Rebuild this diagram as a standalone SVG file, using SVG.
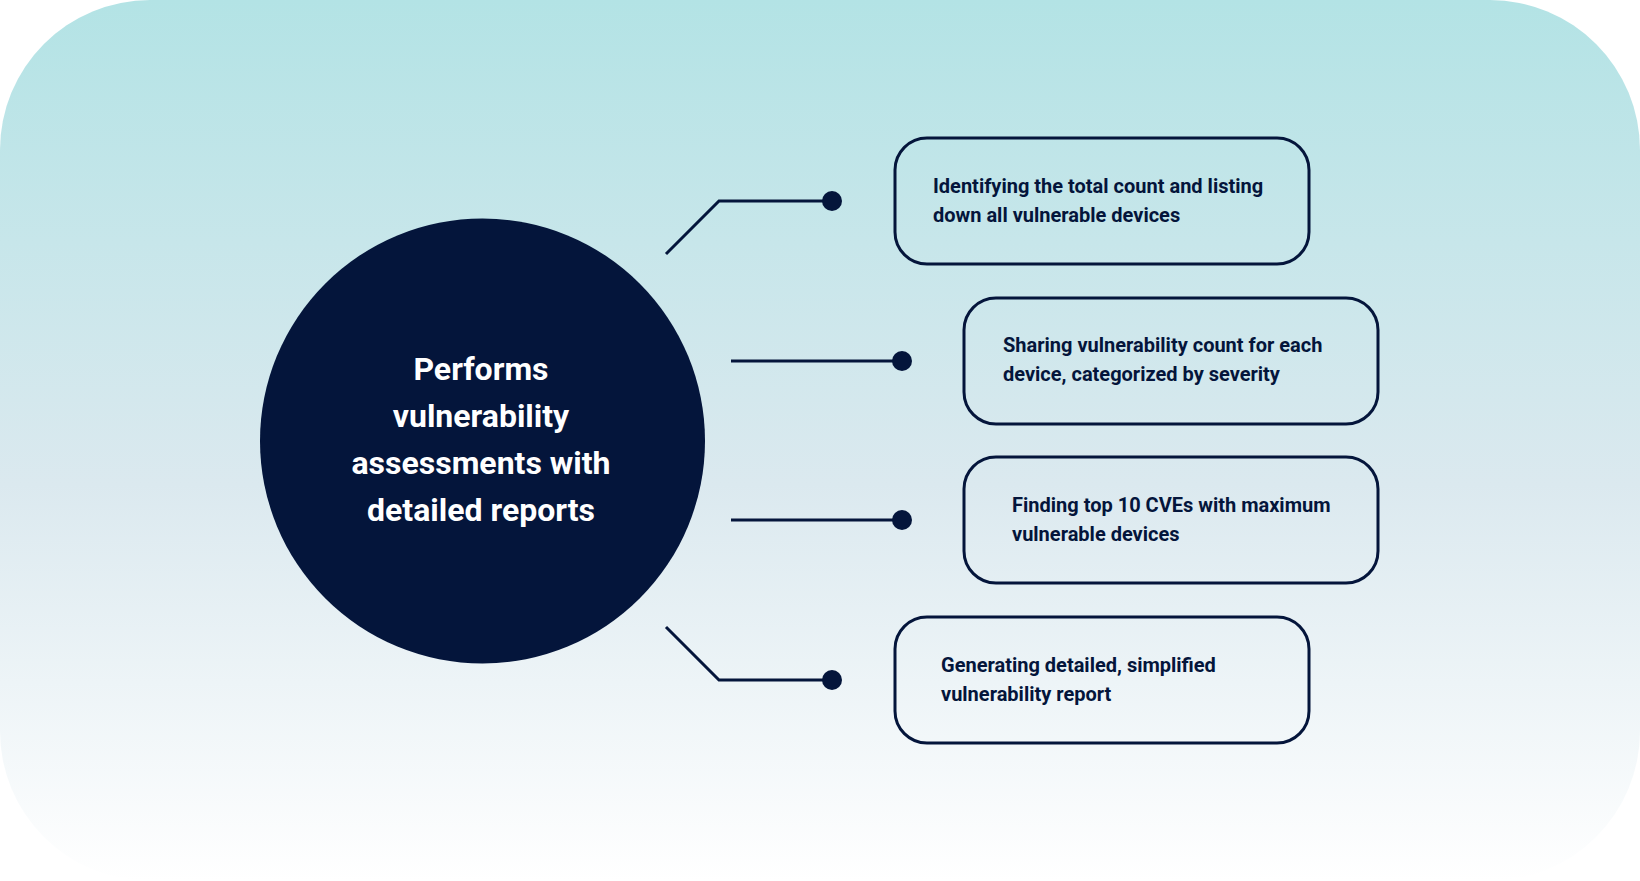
<svg xmlns="http://www.w3.org/2000/svg" width="1640" height="881" viewBox="0 0 1640 881">
<defs>
<linearGradient id="bg" x1="0" y1="0" x2="0" y2="1">
<stop offset="0" stop-color="#b3e3e5"/>
<stop offset="0.55" stop-color="#dbe9ef"/>
<stop offset="1" stop-color="#ffffff"/>
</linearGradient>
<style>
.box{fill:none;stroke:#04153b;stroke-width:3}
.t{font-family:Roboto,"Liberation Sans",sans-serif;font-weight:700;font-size:20px;fill:#04153b}
.ct{font-family:Roboto,"Liberation Sans",sans-serif;font-weight:700;font-size:32px;fill:#ffffff;text-anchor:middle}
.ln{fill:none;stroke:#04153b;stroke-width:3}
.dot{fill:#04153b}
</style>
</defs>
<rect x="0" y="0" width="1640" height="881" rx="150" ry="150" fill="url(#bg)"/>
<g id="center">
<circle cx="482.5" cy="441" r="222.5" fill="#04153b"/>
<text class="ct" x="481" y="380">Performs</text>
<text class="ct" x="481" y="427">vulnerability</text>
<text class="ct" x="481" y="474">assessments with</text>
<text class="ct" x="481" y="521">detailed reports</text>
</g>
<g id="connectors">
<polyline class="ln" points="666,254 719,201 832,201"/>
<circle class="dot" cx="832" cy="201" r="10"/>
<line class="ln" x1="731" y1="361" x2="902" y2="361"/>
<circle class="dot" cx="902" cy="361" r="10"/>
<line class="ln" x1="731" y1="520" x2="902" y2="520"/>
<circle class="dot" cx="902" cy="520" r="10"/>
<polyline class="ln" points="666,627 719,680 832,680"/>
<circle class="dot" cx="832" cy="680" r="10"/>
</g>
<g id="box1">
<rect class="box" x="895" y="138" width="414" height="126" rx="32"/>
<text class="t" x="933" y="193">Identifying the total count and listing</text>
<text class="t" x="933" y="222">down all vulnerable devices</text>
</g>
<g id="box2">
<rect class="box" x="964" y="298" width="414" height="126" rx="32"/>
<text class="t" x="1003" y="352">Sharing vulnerability count for each</text>
<text class="t" x="1003" y="381">device, categorized by severity</text>
</g>
<g id="box3">
<rect class="box" x="964" y="457" width="414" height="126" rx="32"/>
<text class="t" x="1012" y="512">Finding top 10 CVEs with maximum</text>
<text class="t" x="1012" y="541">vulnerable devices</text>
</g>
<g id="box4">
<rect class="box" x="895" y="617" width="414" height="126" rx="32"/>
<text class="t" x="941" y="672">Generating detailed, simplified</text>
<text class="t" x="941" y="701">vulnerability report</text>
</g>
</svg>
